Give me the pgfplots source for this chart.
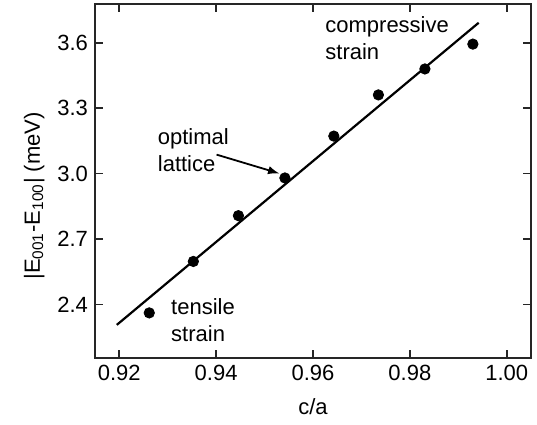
\documentclass[border=0pt]{standalone}
\usepackage{fontspec}
\setmainfont{Liberation Sans}
\usepackage{pgfplots}
\pgfplotsset{compat=1.18}

\begin{document}
\begin{tikzpicture}
\begin{axis}[
  name=ax,
  scale only axis,
  width=218pt, height=177pt,
  xmin=0.915, xmax=1.005,
  ymin=2.154, ymax=3.778,
  xtick={0.92,0.94,0.96,0.98,1.00},
  ytick={2.4,2.7,3.0,3.3,3.6},
  xticklabel style={/pgf/number format/.cd,fixed,fixed zerofill,precision=2},
  yticklabel style={/pgf/number format/.cd,fixed,fixed zerofill,precision=1},
  /pgf/number format/assume math mode=true,
  tick align=inside,
  tick pos=both,
  major tick length=4pt,
  axis line style={line width=0.8pt, black!85},
  tick style={line width=0.8pt, black!85},
  font=\fontsize{11}{13.5}\selectfont,
  xlabel={c/a},
  ylabel={|E\textsubscript{001}-E\textsubscript{100}| (meV)},
  xlabel style={yshift=-2pt},
  ylabel style={at={(ticklabel cs:0.458)}, yshift=-0.5pt},
]
% fitted line
\addplot[black, line width=1.1pt] coordinates {
  (0.9195,2.306) (0.9942,3.692)
};
% computed values
\addplot[only marks, mark=*, mark size=2.6pt, black] coordinates {
  (0.9262,2.361)
  (0.9353,2.597)
  (0.9446,2.807)
  (0.9542,2.980)
  (0.9643,3.172)
  (0.9735,3.361)
  (0.9831,3.480)
  (0.9930,3.594)
};
\node[align=left, inner sep=0pt] at (axis cs:0.9753,3.622) {compressive\\strain};
\node[align=left, inner sep=0pt] at (axis cs:0.9353,3.107) {optimal\\lattice};
\node[align=left, inner sep=0pt] at (axis cs:0.9373,2.328) {tensile\\strain};
\draw[-latex, line width=0.9pt] (axis cs:0.9401,3.087) -- (axis cs:0.9530,3.001);
\end{axis}
\pgfresetboundingbox
\path ([shift={(-47.5pt,-33pt)}]ax.south west) rectangle ([shift={(3pt,2pt)}]ax.north east);
\end{tikzpicture}
\end{document}
